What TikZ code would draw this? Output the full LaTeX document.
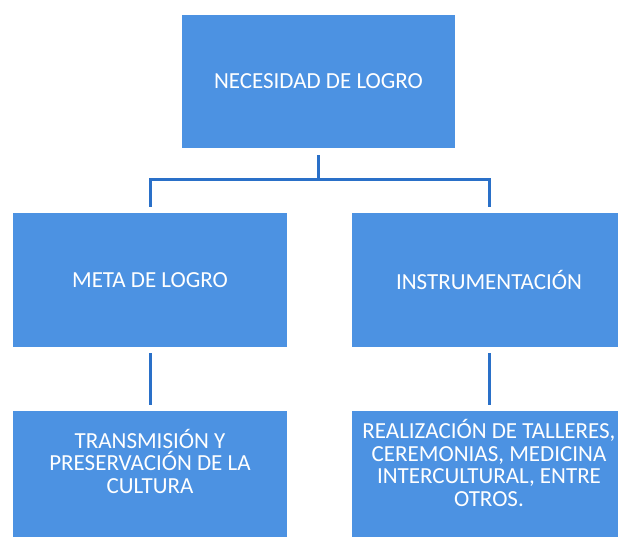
\documentclass[tikz,border=0pt]{standalone}
\usepackage{fontspec}
\setmainfont{Carlito}
\usepackage{xcolor}
\definecolor{boxblue}{RGB}{76,146,226}
\definecolor{lineblue}{RGB}{42,112,200}

\begin{document}
\begin{tikzpicture}[x=1pt, y=1pt,
    box/.style={rectangle, fill=boxblue, text=white, align=center, font=\fontsize{23}{22.5}\selectfont, minimum width=274pt, minimum height=134pt, inner sep=0pt},
    boxtext/.style={text=white, align=center, font=\fontsize{23}{22.5}\selectfont, inner sep=0pt},
    conn/.style={draw=lineblue, line width=3pt}]
    \useasboundingbox (0,0) rectangle (618,537);

    \node (need) [box, minimum width=273pt, minimum height=133pt] at (318.5,455.5) {NECESIDAD DE LOGRO};
    \node (meta) [box] at (150,257) {META DE LOGRO};
    \node (instr) [box] at (489,257) {INSTRUMENTACIÓN};
    \node (cult) [box, label={[boxtext, yshift=17pt]center:TRANSMISIÓN Y\\PRESERVACIÓN DE LA\\CULTURA}] at (150,59) {};
    \node (tall) [box, label={[boxtext, yshift=15pt]center:REALIZACIÓN DE TALLERES,\\CEREMONIAS, MEDICINA\\INTERCULTURAL, ENTRE\\OTROS.}] at (489,59) {};

    \coordinate (bar) at (318.5,357);
    \draw [conn, shorten <=7pt] (need.south) -- (bar);
    \draw [conn, shorten <=6pt, shorten >=6pt] (meta.north) |- (bar) -| (instr.north);
    \draw [conn, shorten <=6pt, shorten >=6pt] (meta) -- (cult);
    \draw [conn, shorten <=6pt, shorten >=6pt] (instr) -- (tall);
\end{tikzpicture}
\end{document}
